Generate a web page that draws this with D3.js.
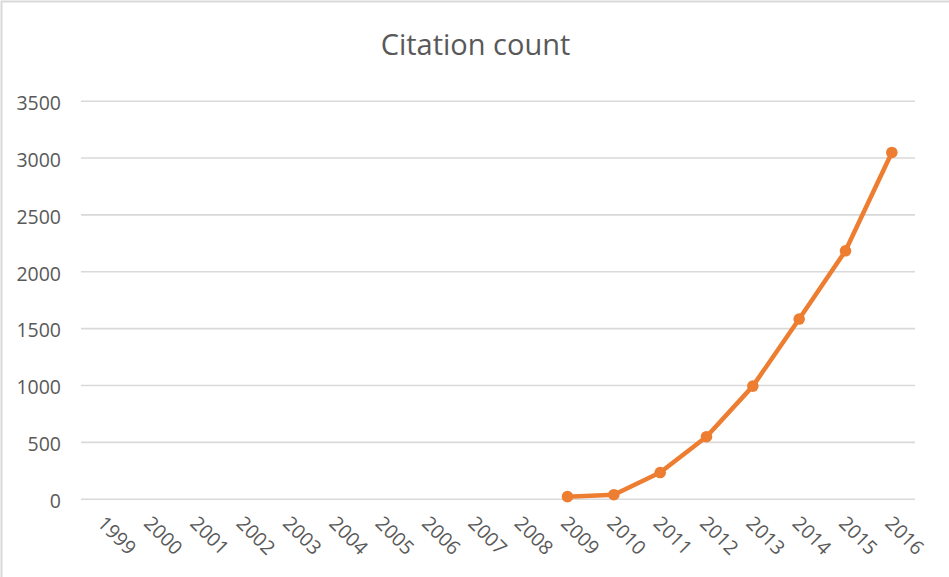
<!DOCTYPE html>
<html>
<head>
<meta charset="utf-8">
<script src="https://d3js.org/d3.v7.min.js"></script>
<style>
  html, body { margin: 0; padding: 0; background: #fff; }
  svg { display: block; }
</style>
</head>
<body>
<svg id="chart" width="949" height="577"></svg>
<script>
const title = "Citation count";
const years = ["1999","2000","2001","2002","2003","2004","2005","2006","2007","2008","2009","2010","2011","2012","2013","2014","2015","2016"];
const citationYears = ["2009","2010","2011","2012","2013","2014","2015","2016"];
const citations = [18, 35, 230, 545, 990, 1580, 2180, 3045];
const yTicks = [0, 500, 1000, 1500, 2000, 2500, 3000, 3500];

const W = 949, H = 577;
const plot = { left: 81, right: 915, top: 100.7, bottom: 498.7 };
const font = "'Open Sans', 'Noto Sans', sans-serif";
const textColor = "#595959";
const gridColor = "#d9d9d9";
const lineColor = "#ED7D31";

const svg = d3.select("#chart");

// outer chart border (only left/top visible in the reference)
svg.append("rect")
  .attr("x", 1.5).attr("y", 1.5)
  .attr("width", W + 20).attr("height", H + 20)
  .attr("fill", "#fff")
  .attr("stroke", gridColor).attr("stroke-width", 2);

const x = d3.scaleBand().domain(years).range([plot.left, plot.right]).paddingInner(0).paddingOuter(0);
const y = d3.scaleLinear().domain([0, 3500]).range([plot.bottom, plot.top]);

// title
svg.append("text")
  .attr("x", 475.5)
  .attr("y", 55)
  .attr("text-anchor", "middle")
  .attr("font-family", font)
  .attr("font-size", 29)
  .attr("fill", textColor)
  .text(title);

// y axis with gridlines
const yAxis = d3.axisLeft(y)
  .tickValues(yTicks)
  .tickSize(-(plot.right - plot.left))
  .tickPadding(20)
  .tickFormat(d3.format("d"));

const gy = svg.append("g")
  .attr("transform", `translate(${plot.left},0)`)
  .call(yAxis);
gy.select(".domain").remove();
gy.selectAll(".tick line")
  .attr("stroke", gridColor)
  .attr("stroke-width", 1.6);
gy.selectAll(".tick text")
  .attr("font-family", font)
  .attr("font-size", 19.5)
  .attr("fill", textColor)
  .attr("dy", "0.45em");

// x axis labels (rotated)
const xAxis = d3.axisBottom(x).tickSize(0).tickPadding(0);
const gx = svg.append("g")
  .attr("transform", `translate(0,${plot.bottom})`)
  .call(xAxis);
gx.select(".domain").remove();
gx.selectAll(".tick text")
  .attr("font-family", font)
  .attr("font-size", 19.5)
  .attr("fill", textColor)
  .attr("text-anchor", "start")
  .attr("dy", "0.35em")
  .attr("y", 0)
  .attr("transform", "translate(-3,21) rotate(45)");

// line series
const data = citationYears.map((yr, i) => ({ year: yr, value: citations[i] }));
const cx = d => x(d.year) + x.bandwidth() / 2;

const line = d3.line()
  .x(cx)
  .y(d => y(d.value));

svg.append("path")
  .datum(data)
  .attr("d", line)
  .attr("fill", "none")
  .attr("stroke", lineColor)
  .attr("stroke-width", 4.5)
  .attr("stroke-linejoin", "round")
  .attr("stroke-linecap", "round");

svg.selectAll("circle.pt")
  .data(data)
  .enter().append("circle")
  .attr("class", "pt")
  .attr("cx", cx)
  .attr("cy", d => y(d.value))
  .attr("r", 5.8)
  .attr("fill", lineColor);
</script>
</body>
</html>
